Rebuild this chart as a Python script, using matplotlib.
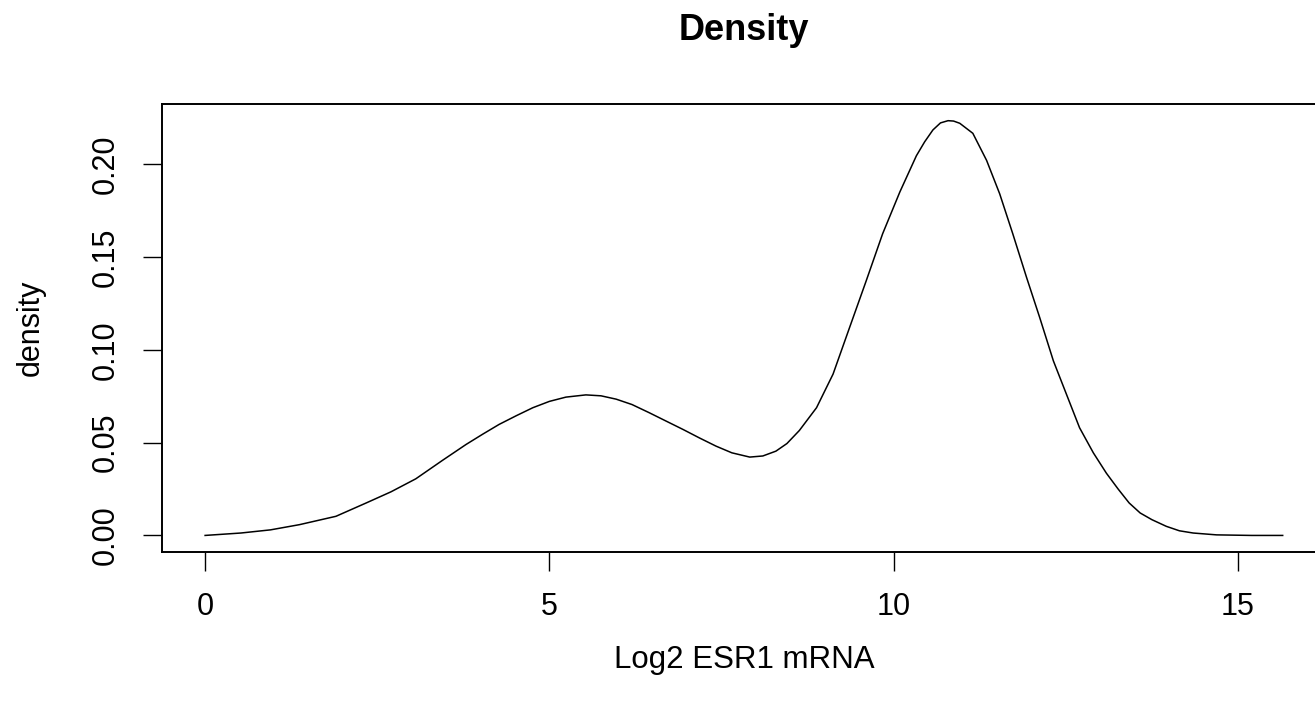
import matplotlib
matplotlib.use('Agg')
import matplotlib.pyplot as plt

# density curve (x = log2 ESR1 mRNA, y = density)
log2_esr1 = [0.0, 0.52, 0.95, 1.37, 1.90, 2.34, 2.70, 3.06, 3.45, 3.79,
             4.03, 4.27, 4.52, 4.76, 5.0, 5.24, 5.53, 5.75, 5.97, 6.2,
             6.45, 6.7, 6.94, 7.18, 7.42, 7.65, 7.91, 8.1, 8.29, 8.45,
             8.63, 8.88, 9.12, 9.36, 9.60, 9.84, 10.09, 10.33, 10.45, 10.57,
             10.68, 10.79, 10.87, 10.96, 11.15, 11.35, 11.54, 11.73, 11.93, 12.12,
             12.32, 12.51, 12.70, 12.90, 13.09, 13.26, 13.42, 13.58, 13.75, 13.96,
             14.15, 14.35, 14.69, 15.2, 15.65]
density = [0.0, 0.0013, 0.003, 0.0058, 0.0103, 0.0175, 0.0235, 0.0305, 0.0405, 0.049,
           0.0545, 0.0598, 0.0645, 0.0688, 0.0722, 0.0745, 0.0757, 0.0752, 0.0734, 0.0705,
           0.0661, 0.0615, 0.0571, 0.0525, 0.0481, 0.0445, 0.0422, 0.0428, 0.0454, 0.0495,
           0.0565, 0.0688, 0.0869, 0.112, 0.137, 0.1625, 0.185, 0.2045, 0.212, 0.2184,
           0.2222, 0.2234, 0.2232, 0.222, 0.2166, 0.202, 0.184, 0.1625, 0.139, 0.1175,
           0.094, 0.076, 0.058, 0.0445, 0.0335, 0.025, 0.0175, 0.0121, 0.0085, 0.0049,
           0.0025, 0.0013, 0.0003, 0.0, 0.0]

x_ticks = [0, 5, 10, 15]
y_ticks = [0.00, 0.05, 0.10, 0.15, 0.20]

plt.rcParams['font.family'] = ['Liberation Sans', 'DejaVu Sans']

fig = plt.figure(figsize=(13.15, 7.11), dpi=100)
# the right side of the plot box is cut off in the reference
ax = fig.add_axes([0.1232, 0.2236, 0.885, 0.630])

ax.plot(log2_esr1, density, color='black', lw=1.1)

# R style 4% padding around data range
xr = max(log2_esr1) - min(log2_esr1)
yr = max(density) - min(density)
ax.set_xlim(min(log2_esr1) - 0.04 * xr, max(log2_esr1) + 0.04 * xr)
ax.set_ylim(min(density) - 0.04 * yr, max(density) + 0.04 * yr)

ax.set_xticks(x_ticks)
ax.set_xticklabels([str(t) for t in x_ticks])
ax.set_yticks(y_ticks)
ax.set_yticklabels([f'{t:.2f}' for t in y_ticks])

ax.tick_params(axis='both', length=13.7, width=1.0, labelsize=22)
ax.tick_params(axis='x', pad=15)
ax.tick_params(axis='y', pad=16)
plt.setp(ax.get_yticklabels(), rotation=90, va='center')

for s in ax.spines.values():
    s.set_linewidth(1.4)

ax.set_title('Density', fontsize=26, fontweight='bold', pad=46)
ax.set_xlabel('Log2 ESR1 mRNA', fontsize=22.5)
ax.set_ylabel('density', fontsize=22)
ax.xaxis.set_label_coords(0.5, -0.207)
ax.yaxis.set_label_coords(-0.1, 0.5)

fig.savefig('out.png', dpi=100)
